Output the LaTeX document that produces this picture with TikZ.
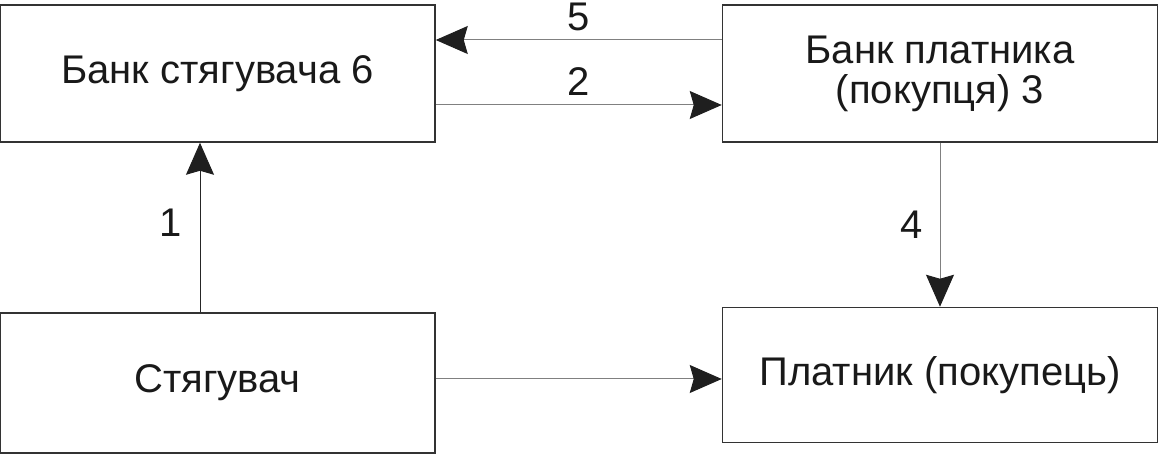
\documentclass[tikz,border=0pt]{standalone}
\usepackage{fontspec}
\setmainfont{Liberation Sans}
\usepackage{tikz}
\usetikzlibrary{positioning}
\usetikzlibrary{arrows.meta}

\begin{document}
\begin{tikzpicture}[node distance=2cm,on grid,
    box/.style={draw=black!80,line width=0.75pt,minimum width=217.5pt,minimum height=68.5pt,align=center,inner sep=0pt,text=black!90},
    flow/.style={black!50,line width=0.5pt,-{Stealth[length=16pt,width=14pt,inset=2pt,color=black!88]}},
    font=\fontsize{20pt}{20pt}\selectfont]
   \useasboundingbox (0,0) rectangle (579pt,-227pt);
   \node[box] (bank_c) at (108.75pt,-36.75pt) {Банк стягувача 6};
   \node[box] (bank_p) [right=361.25pt of bank_c] {Банк платника\\(покупця) 3};
   \node[box,minimum height=70pt] (coll) [below=154.75pt of bank_c] {Стягувач};
   \node[box,minimum height=67.5pt] (payer) [below=150.75pt of bank_p] {Платник (покупець)};
    \path[flow]
    ([yshift=16.75pt]bank_p.west) edge node[above=1pt,text=black!90] {5} ([yshift=16.75pt]bank_p.west -| bank_c.east)
    ([yshift=-15.75pt]bank_c.east) edge node[above=1pt,text=black!90] {2} ([yshift=-15.75pt]bank_c.east -| bank_p.west)
    ([xshift=-8.75pt]coll.north) edge [black!85] node[left=5.5pt,yshift=2.5pt,text=black!90] {1} ([xshift=-8.75pt]coll.north |- bank_c.south)
    (bank_p.south) edge node[left=5pt,text=black!90] {4} (payer.north)
    ([yshift=2pt]coll.east) edge ([yshift=2pt]coll.east -| payer.west);
\end{tikzpicture}
\end{document}
